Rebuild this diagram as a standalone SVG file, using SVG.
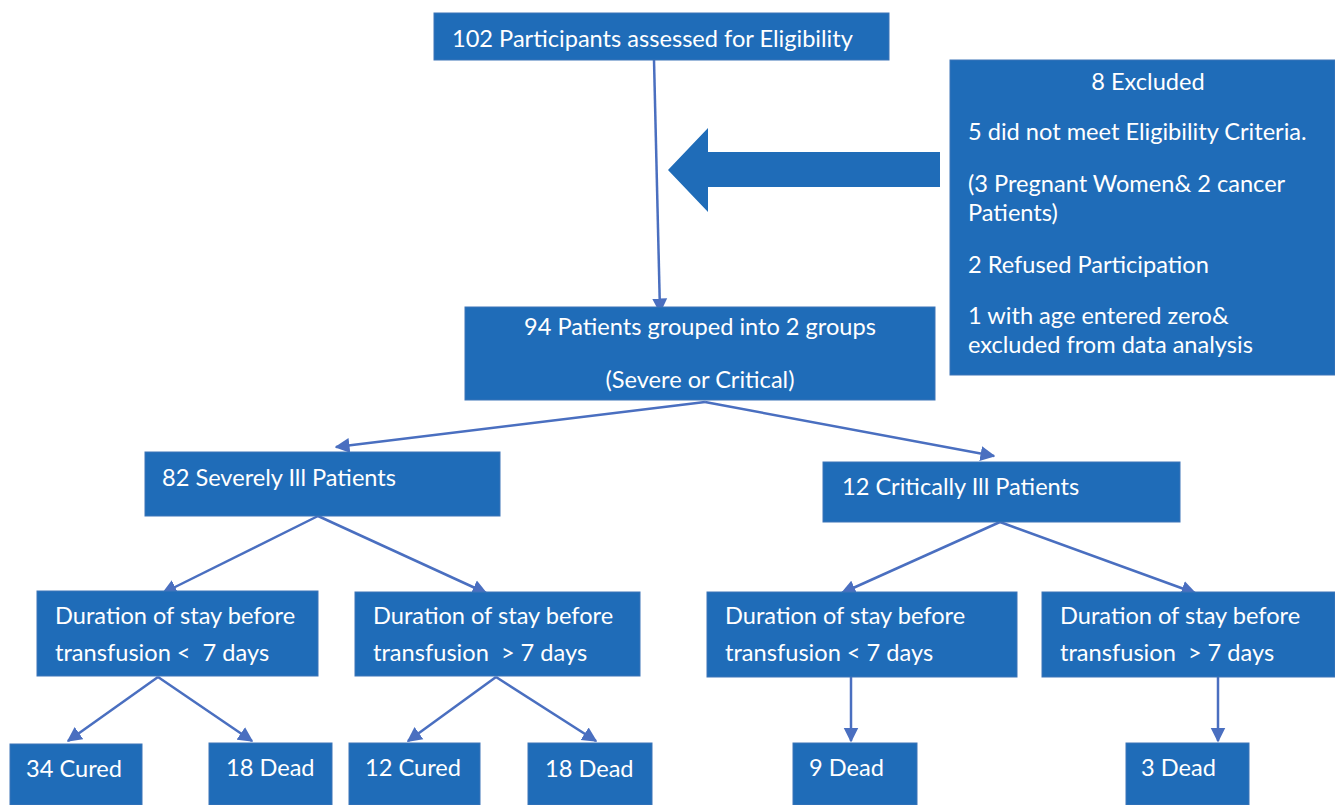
<svg xmlns="http://www.w3.org/2000/svg" width="1335" height="805" viewBox="0 0 1335 805">
<defs>
<style>
.box{fill:#1f6cb8;stroke:#3d75b8;stroke-width:1}
.t{font-family:Lato,"Liberation Sans",sans-serif;font-size:23.6px;fill:#ffffff}
.c{text-anchor:middle}
.ln{stroke:#4a6fc0;stroke-width:2.5;fill:none;marker-end:url(#ah)}
</style>
<marker id="ah" viewBox="0 0 10 10" refX="9" refY="5" markerWidth="6" markerHeight="6.5" orient="auto" markerUnits="strokeWidth">
<path d="M0,0 L10,5 L0,10 z" fill="#4a6fc0"/>
</marker>
</defs>
<rect width="1335" height="805" fill="#ffffff"/>
<g id="connectors">
<line class="ln" x1="654" y1="60" x2="660" y2="312"/>
<line class="ln" x1="705" y1="402" x2="336" y2="447"/>
<line class="ln" x1="705" y1="402" x2="994" y2="456"/>
<line class="ln" x1="318" y1="516" x2="163" y2="593"/>
<line class="ln" x1="318" y1="516" x2="486" y2="593"/>
<line class="ln" x1="1000" y1="522" x2="842" y2="593"/>
<line class="ln" x1="1000" y1="522" x2="1195" y2="593"/>
<line class="ln" x1="158" y1="677" x2="68" y2="741"/>
<line class="ln" x1="158" y1="677" x2="252" y2="741"/>
<line class="ln" x1="496" y1="677" x2="408" y2="741"/>
<line class="ln" x1="496" y1="677" x2="596" y2="741"/>
<line class="ln" x1="851" y1="677" x2="851" y2="741"/>
<line class="ln" x1="1218" y1="677" x2="1218" y2="741"/>
<polygon points="940,152 708,152 708,128 668,170 708,212 708,187 940,187" fill="#1f6cb8"/>
</g>
<g id="n-top"><rect class="box" x="434" y="13" width="455" height="47"/><text class="t" x="452" y="47">102 Participants assessed for Eligibility</text></g>
<g id="n-excluded"><rect class="box" x="950" y="60" width="385" height="315"/>
<text class="t c" x="1148" y="90">8 Excluded</text>
<text class="t" x="968" y="140">5 did not meet Eligibility Criteria.</text>
<text class="t" x="968" y="192">(3 Pregnant Women&amp; 2 cancer</text>
<text class="t" x="968" y="221">Patients)</text>
<text class="t" x="968" y="273">2 Refused Participation</text>
<text class="t" x="968" y="324">1 with age entered zero&amp;</text>
<text class="t" x="968" y="353">excluded from data analysis</text>
</g>
<g id="n-94"><rect class="box" x="465" y="307" width="470" height="93"/>
<text class="t c" x="700" y="335">94 Patients grouped into 2 groups</text>
<text class="t c" x="700" y="388">(Severe or Critical)</text>
</g>
<g id="n-82"><rect class="box" x="145" y="452" width="355" height="64"/><text class="t" x="162" y="486">82 Severely Ill Patients</text></g>
<g id="n-12"><rect class="box" x="823" y="462" width="357" height="60"/><text class="t" x="842" y="495">12 Critically Ill Patients</text></g>
<g id="n-d1"><rect class="box" x="37" y="591" width="281" height="85"/><text class="t" x="55" y="624">Duration of stay before</text><text class="t" x="55" y="661" xml:space="preserve">transfusion &lt;  7 days</text></g>
<g id="n-d2"><rect class="box" x="355" y="592" width="285" height="84"/><text class="t" x="373" y="624">Duration of stay before</text><text class="t" x="373" y="661" xml:space="preserve">transfusion  &gt; 7 days</text></g>
<g id="n-d3"><rect class="box" x="707" y="592" width="310" height="85"/><text class="t" x="725" y="624">Duration of stay before</text><text class="t" x="725" y="661">transfusion &lt; 7 days</text></g>
<g id="n-d4"><rect class="box" x="1042" y="592" width="293" height="85"/><text class="t" x="1060" y="624">Duration of stay before</text><text class="t" x="1060" y="661" xml:space="preserve">transfusion  &gt; 7 days</text></g>
<g id="n-34c"><rect class="box" x="10" y="744" width="132" height="61"/><text class="t" x="26" y="777">34 Cured</text></g>
<g id="n-18d1"><rect class="box" x="209" y="743" width="123" height="62"/><text class="t" x="226" y="776">18 Dead</text></g>
<g id="n-12c"><rect class="box" x="349" y="743" width="131" height="62"/><text class="t" x="365" y="776">12 Cured</text></g>
<g id="n-18d2"><rect class="box" x="528" y="743" width="124" height="62"/><text class="t" x="545" y="777">18 Dead</text></g>
<g id="n-9d"><rect class="box" x="793" y="743" width="124" height="62"/><text class="t" x="809" y="776">9 Dead</text></g>
<g id="n-3d"><rect class="box" x="1126" y="743" width="123" height="62"/><text class="t" x="1141" y="776">3 Dead</text></g>
</svg>
